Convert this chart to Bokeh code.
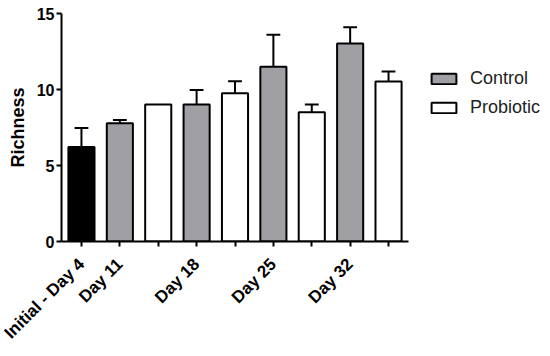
from bokeh.plotting import figure
from bokeh.models import Range1d, FixedTicker, Legend, LegendItem
from bokeh.embed import file_html
from bokeh.resources import INLINE
import math

# ---- data ----
groups = ["Initial - Day 4", "Day 11", "Day 18", "Day 25", "Day 32"]
initial_mean = [6.22]
initial_sem = [1.25]
control_mean = [7.78, 9.02, 11.5, 13.02]
control_sem = [0.22, 0.95, 2.1, 1.08]
probiotic_mean = [9.02, 9.76, 8.51, 10.52]
probiotic_sem = [0.0, 0.78, 0.51, 0.66]
y_ticks = [0, 5, 10, 15]

# ---- positions (layout) ----
init_x = [1]
ctrl_x = [2 + 2 * i for i in range(len(control_mean))]
prob_x = [3 + 2 * i for i in range(len(probiotic_mean))]
label_x = init_x + ctrl_x

FONT = "Liberation Sans"
BW = 0.68
CAP = 0.18
W, H = 544, 352
BL, BR, BT, BB = 61, 2, 13, 111
X0, X1 = 0.48, 9.52          # extent of the drawn x axis
AXIS_PX = 347                # pixel length of the drawn x axis
x_end = X0 + (W - BL - BR) * (X1 - X0) / AXIS_PX

p = figure(width=W, height=H, output_backend="svg", toolbar_location=None,
           x_range=Range1d(X0, x_end), y_range=Range1d(0, 15),
           min_border_left=BL, min_border_right=BR, min_border_top=BT,
           min_border_bottom=BB)
p.outline_line_color = None
p.grid.visible = False
p.background_fill_color = "white"

r_init = p.vbar(x=init_x, top=initial_mean, width=BW, bottom=0,
                fill_color="black", line_color="black", line_width=2)
r_ctrl = p.vbar(x=ctrl_x, top=control_mean, width=BW, bottom=0,
                fill_color="#a0a0a4", line_color="black", line_width=2)
r_prob = p.vbar(x=prob_x, top=probiotic_mean, width=BW, bottom=0,
                fill_color="white", line_color="black", line_width=2)

def errbars(xs, means, sems):
    xs2 = [x for x, s in zip(xs, sems) if s > 0]
    m2 = [m for m, s in zip(means, sems) if s > 0]
    t2 = [m + s for m, s in zip(means, sems) if s > 0]
    p.segment(x0=xs2, y0=m2, x1=xs2, y1=t2, line_color="black", line_width=2)
    p.segment(x0=[x - CAP for x in xs2], y0=t2, x1=[x + CAP for x in xs2], y1=t2,
              line_color="black", line_width=2)

errbars(init_x, initial_mean, initial_sem)
errbars(ctrl_x, control_mean, control_sem)
errbars(prob_x, probiotic_mean, probiotic_sem)

# axes
xa = p.xaxis[0]
xa.bounds = (X0, X1)
xa.ticker = FixedTicker(ticks=list(range(1, 10)))
overrides = {x: "" for x in range(1, 10)}
for x, g in zip(label_x, groups):
    overrides[x] = g
xa.major_label_overrides = overrides
xa.major_label_orientation = math.pi / 4
xa.minor_tick_line_color = None
xa.major_tick_in = 0
xa.major_tick_out = 5
xa.major_tick_line_width = 2
xa.axis_line_width = 2
xa.major_label_text_font = FONT
xa.major_label_text_font_style = "bold"
xa.major_label_text_font_size = "17px"
xa.major_label_text_color = "black"
xa.major_label_standoff = 15

ya = p.yaxis[0]
ya.ticker = FixedTicker(ticks=y_ticks)
ya.minor_tick_line_color = None
ya.major_tick_in = 0
ya.major_tick_out = 5
ya.major_tick_line_width = 2
ya.axis_line_width = 2
ya.major_label_text_font = FONT
ya.major_label_text_font_style = "bold"
ya.major_label_text_font_size = "16px"
ya.major_label_text_color = "black"
ya.major_label_standoff = 2
ya.axis_label = "Richness"
ya.axis_label_text_font = FONT
ya.axis_label_text_font_style = "bold"
ya.axis_label_text_font_size = "18px"
ya.axis_label_text_color = "black"
ya.axis_label_standoff = 6

legend = Legend(items=[LegendItem(label="Control", renderers=[r_ctrl]),
                       LegendItem(label="Probiotic", renderers=[r_prob])],
                location=(367, 123), padding=0, margin=0,
                border_line_color=None, background_fill_alpha=0,
                glyph_width=31, glyph_height=13, label_height=20,
                spacing=8, label_standoff=11,
                label_text_font=FONT, label_text_font_size="18px",
                label_text_color="#222222")
p.add_layout(legend)

open("out.html", "w").write(file_html(p, INLINE))
